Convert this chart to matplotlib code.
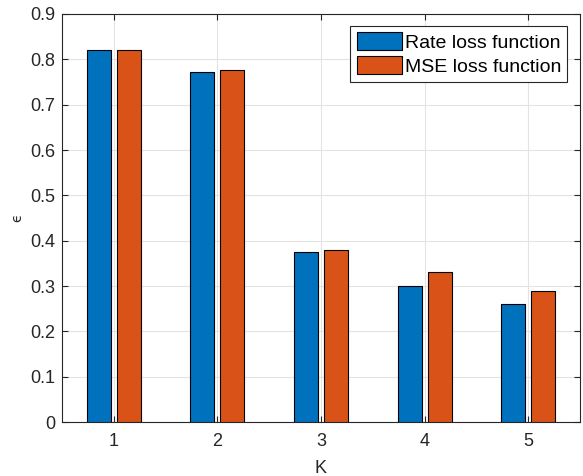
import matplotlib
matplotlib.use("Agg")
import matplotlib.pyplot as plt
import numpy as np

plt.rcParams['font.family'] = ['Liberation Sans', 'DejaVu Sans']

K = [1, 2, 3, 4, 5]
rate_loss = [0.82, 0.772, 0.375, 0.30, 0.26]
mse_loss = [0.82, 0.777, 0.38, 0.33, 0.29]
series_names = ["Rate loss function", "MSE loss function"]
colors = ["#0072BD", "#D95319"]

fig = plt.figure(figsize=(5.83, 4.76), dpi=100)
ax = fig.add_axes([0.1063, 0.1134, 0.8886, 0.8572])

x = np.array(K, dtype=float)
offset = 0.145
width = 0.23
ax.bar(x - offset, rate_loss, width, color=colors[0], edgecolor="black",
       linewidth=0.8, label=series_names[0], zorder=3)
ax.bar(x + offset, mse_loss, width, color=colors[1], edgecolor="black",
       linewidth=0.8, label=series_names[1], zorder=3)

ax.set_xlim(0.5, 5.5)
ax.set_ylim(0, 0.9)
ax.set_xticks(K)
ax.set_yticks(np.arange(0, 0.91, 0.1))
ax.set_yticklabels(["0"] + [f"{v:.1f}" for v in np.arange(0.1, 0.91, 0.1)])

ax.grid(True, color="#e3e3e3", linewidth=0.8, zorder=0)
ax.set_axisbelow(True)
ax.tick_params(direction="in", length=4, width=0.8, labelsize=13,
               colors="#262626", top=True, right=True)
ax.tick_params(axis="x", pad=8)
ax.tick_params(axis="y", pad=5)
for s in ax.spines.values():
    s.set_color("#262626")
    s.set_linewidth(0.8)

ax.set_xlabel("K", fontsize=13, color="#262626", labelpad=7)
ax.set_ylabel("\u03f5", fontsize=10, color="#262626", labelpad=4,
              family=["DejaVu Sans"], rotation=90)

leg = ax.legend(loc="upper right", fontsize=14, frameon=True, fancybox=False,
                edgecolor="#262626", framealpha=1, borderpad=0.33,
                handlelength=2.3, handleheight=1.05, handletextpad=0.15,
                labelspacing=0.2, borderaxespad=0.0,
                bbox_to_anchor=(0.9755, 0.9705))
leg.get_frame().set_linewidth(0.8)

fig.savefig("out.png", dpi=100)
